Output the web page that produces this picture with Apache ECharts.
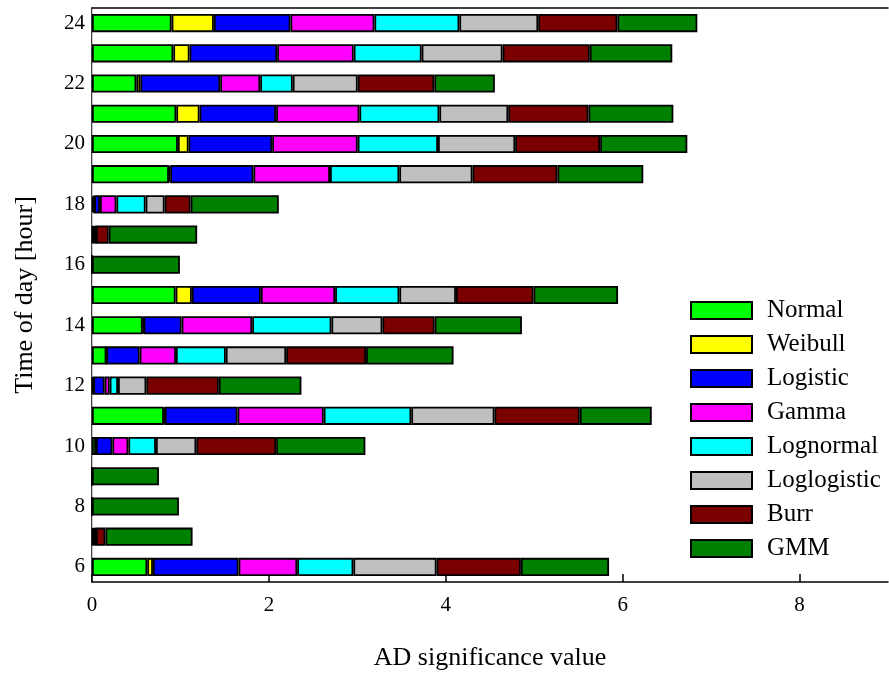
<!DOCTYPE html>
<html>
<head>
<meta charset="utf-8">
<script src="https://cdn.jsdelivr.net/npm/echarts@6/dist/echarts.min.js"></script>
<style>
  html, body { margin: 0; padding: 0; background: #fff; }
  #chart { width: 889px; height: 673px; }
</style>
</head>
<body>
<div id="chart"></div>
<script>
// Hours of the day (bottom to top)
const hours = ['6','7','8','9','10','11','12','13','14','15','16','17','18','19','20','21','22','23','24'];

// AD significance value per distribution, one entry per hour
const normal      = [0.625,0.010,0,0,0.045,0.813,0.010,0.163,0.573,0.945,0,0.010,0.020,0.870,0.971,0.953,0.501,0.919,0.900];
const weibull     = [0.064,0.005,0,0,0,0.010,0.005,0,0.010,0.184,0,0.005,0.005,0.015,0.121,0.263,0.045,0.184,0.478];
const logistic    = [0.968,0.010,0,0,0.185,0.822,0.128,0.376,0.430,0.780,0,0.010,0.065,0.940,0.945,0.866,0.904,0.991,0.866];
const gamma       = [0.663,0.010,0,0,0.181,0.975,0.057,0.410,0.798,0.840,0,0.010,0.186,0.866,0.967,0.941,0.452,0.865,0.949];
const lognormal   = [0.635,0.005,0,0,0.312,0.990,0.094,0.564,0.896,0.726,0,0.005,0.330,0.783,0.908,0.904,0.368,0.768,0.960];
const loglogistic = [0.941,0.005,0,0,0.456,0.941,0.320,0.682,0.576,0.640,0,0.005,0.215,0.828,0.873,0.779,0.734,0.915,0.892];
const burr        = [0.953,0.106,0,0,0.903,0.964,0.820,0.904,0.591,0.877,0,0.144,0.294,0.960,0.960,0.907,0.866,0.986,0.895];
const gmm         = [0.997,0.986,0.983,0.757,1.009,0.814,0.934,0.989,0.987,0.956,0.994,1.000,0.997,0.971,0.986,0.960,0.685,0.933,0.904];

const seriesNames = ['Normal','Weibull','Logistic','Gamma','Lognormal','Loglogistic','Burr','GMM'];
const seriesData  = [normal, weibull, logistic, gamma, lognormal, loglogistic, burr, gmm];
const seriesColors = ['#00ff00','#ffff00','#0000ff','#ff00ff','#00ffff','#c0c0c0','#7a0000','#008000'];

const FONT = 'Liberation Serif';

const chart = echarts.init(document.getElementById('chart'), null, { renderer: 'canvas' });

chart.setOption({
  animation: false,
  backgroundColor: '#ffffff',
  grid: { left: 92, right: 1, top: 8, bottom: 91, containLabel: false, outerBoundsMode: 'none' },
  legend: {
    orient: 'vertical',
    left: 685,
    top: 293,
    itemWidth: 61,
    itemHeight: 17,
    itemGap: 9,
    icon: 'rect',
    data: seriesNames,
    textStyle: {
      fontFamily: FONT, fontSize: 25, color: '#000', lineHeight: 25,
      padding: [0, 0, 0, 10]
    }
  },
  xAxis: [{
    type: 'value',
    min: 0, max: 9, interval: 2,
    name: 'AD significance value',
    nameLocation: 'middle',
    nameGap: 63,
    nameTextStyle: { fontFamily: FONT, fontSize: 26, color: '#000' },
    axisLine: { show: true, lineStyle: { color: '#000', width: 1.5 } },
    axisTick: { show: true, inside: true, length: 8, lineStyle: { color: '#000', width: 1.5 } },
    axisLabel: { fontFamily: FONT, fontSize: 21, color: '#000', margin: 13, showMaxLabel: false },
    splitLine: { show: false }
  }, {
    type: 'value', position: 'top', min: 0, max: 9,
    axisLine: { show: true, lineStyle: { color: '#000', width: 1.5 } },
    axisTick: { show: false }, axisLabel: { show: false }, splitLine: { show: false }
  }],
  yAxis: [{
    type: 'category',
    data: hours,
    name: 'Time of day [hour]',
    nameLocation: 'middle',
    nameGap: 54,
    nameRotate: 90,
    nameTextStyle: { fontFamily: FONT, fontSize: 26, color: '#000' },
    axisLine: { show: true, lineStyle: { color: '#000', width: 1.5 } },
    axisTick: { show: false },
    axisLabel: { interval: 1, fontFamily: FONT, fontSize: 21, color: '#000', margin: 7 },
    splitLine: { show: false }
  }, {
    type: 'category', position: 'right', data: hours,
    axisLine: { show: true, lineStyle: { color: '#c8c8c8', width: 1 } },
    axisTick: { show: false }, axisLabel: { show: false }, splitLine: { show: false }
  }],
  series: seriesNames.map((name, i) => ({
    name: name,
    type: 'bar',
    stack: 'total',
    barWidth: '60%',
    data: seriesData[i],
    itemStyle: { color: seriesColors[i], borderColor: '#000', borderWidth: 1.8 }
  }))
});
</script>
</body>
</html>
